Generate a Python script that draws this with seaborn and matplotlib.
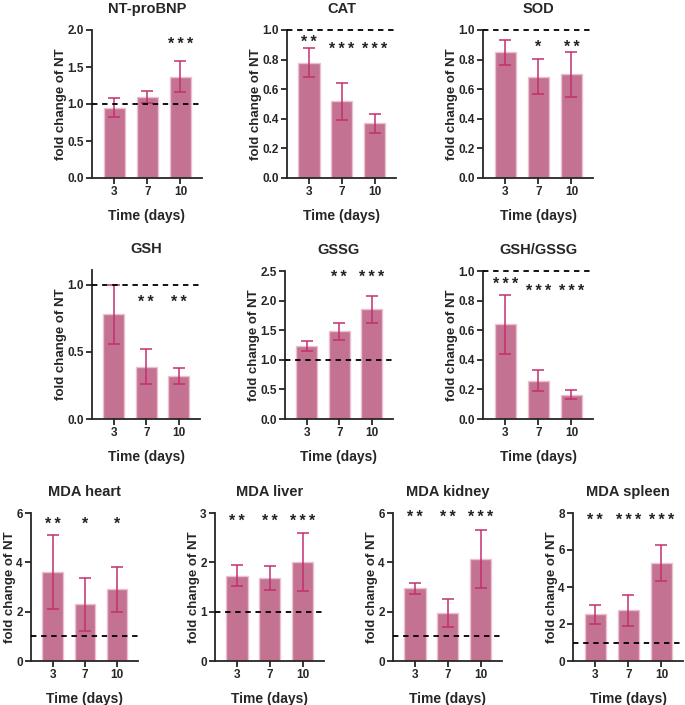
import numpy as np
import pandas as pd
import matplotlib
matplotlib.use("Agg")
import matplotlib.pyplot as plt
import seaborn as sns

# time points (days)
days = ["3", "7", "10"]

# fold change of NT (mean, sd) and significance marks per panel
ntprobnp = [0.95, 1.09, 1.37]
ntprobnp_sd = [0.13, 0.08, 0.21]
ntprobnp_sig = ["", "", "***"]

cat = [0.78, 0.52, 0.37]
cat_sd = [0.10, 0.125, 0.065]
cat_sig = ["**", "***", "***"]

sod = [0.85, 0.685, 0.70]
sod_sd = [0.085, 0.118, 0.15]
sod_sig = ["", "*", "**"]

gsh = [0.78, 0.39, 0.32]
gsh_sd = [0.22, 0.128, 0.06]
gsh_sig = ["", "**", "**"]

gssg = [1.23, 1.48, 1.85]
gssg_sd = [0.085, 0.14, 0.22]
gssg_sig = ["", "**", "***"]

ratio = [0.64, 0.26, 0.165]
ratio_sd = [0.198, 0.073, 0.03]
ratio_sig = ["***", "***", "***"]

mda_heart = [3.6, 2.3, 2.9]
mda_heart_sd = [1.49, 1.08, 0.9]
mda_heart_sig = ["**", "*", "*"]

mda_liver = [1.73, 1.68, 2.0]
mda_liver_sd = [0.215, 0.245, 0.59]
mda_liver_sig = ["**", "**", "***"]

mda_kidney = [2.95, 1.93, 4.13]
mda_kidney_sd = [0.22, 0.57, 1.18]
mda_kidney_sig = ["**", "**", "***"]

mda_spleen = [2.52, 2.73, 5.3]
mda_spleen_sd = [0.5, 0.86, 0.95]
mda_spleen_sig = ["**", "***", "***"]

panels = [
    ("NT-proBNP", ntprobnp, ntprobnp_sd, ntprobnp_sig),
    ("CAT", cat, cat_sd, cat_sig),
    ("SOD", sod, sod_sd, sod_sig),
    ("GSH", gsh, gsh_sd, gsh_sig),
    ("GSSG", gssg, gssg_sd, gssg_sig),
    ("GSH/GSSG", ratio, ratio_sd, ratio_sig),
    ("MDA heart", mda_heart, mda_heart_sd, mda_heart_sig),
    ("MDA liver", mda_liver, mda_liver_sd, mda_liver_sig),
    ("MDA kidney", mda_kidney, mda_kidney_sd, mda_kidney_sig),
    ("MDA spleen", mda_spleen, mda_spleen_sd, mda_spleen_sig),
]

# layout: pixel box (left, top, right, bottom), y max, y tick step, star heights
layout = [
    ((92, 30, 202, 178), 2.0, 0.5, [1.84, 1.84, 1.84]),
    ((287, 30, 396, 178), 1.0, 0.2, [0.94, 0.89, 0.89]),
    ((483, 30, 593, 178), 1.0, 0.2, [0.905, 0.905, 0.905]),
    ((92, 270, 200, 419), 1.11, 0.5, [0.89, 0.89, 0.89]),
    ((285, 271, 393, 419), 2.5, 0.5, [2.44, 2.44, 2.44]),
    ((483, 271, 593, 419), 1.0, 0.2, [0.93, 0.885, 0.885]),
    ((31, 513, 138, 661), 6.0, 2, [5.68, 5.68, 5.68]),
    ((215, 513, 324, 661), 3.0, 1, [2.9, 2.9, 2.9]),
    ((393, 513, 502, 661), 6.0, 2, [5.96, 5.96, 5.96]),
    ((573, 513, 683, 661), 8.0, 2, [7.78, 7.78, 7.78]),
]

sns.set_style("ticks")
plt.rcParams["font.family"] = ["Liberation Sans", "DejaVu Sans"]
plt.rcParams["font.weight"] = "bold"
plt.rcParams["axes.linewidth"] = 1.3

W, H = 685, 705
fig = plt.figure(figsize=(W / 100, H / 100), dpi=100)

bar_color = "#C47292"
edge_color = "#EBC0D0"
err_color = "#C2306E"

for (title, vals, sds, sig), (box, ymax, step, star_y) in zip(panels, layout):
    l, t, r, b = box
    ax = fig.add_axes([l / W, 1 - b / H, (r - l) / W, (b - t) / H])
    df = pd.DataFrame({"day": days, "fold": vals})
    sns.barplot(data=df, x="day", y="fold", color=bar_color, saturation=1,
                width=0.64, edgecolor=edge_color, linewidth=1, errorbar=None, ax=ax)
    ax.errorbar(range(len(days)), vals, yerr=sds, fmt="none", ecolor=err_color,
                elinewidth=1.1, capsize=4.2, capthick=1.1, zorder=3)
    ax.axhline(1.0, color="black", lw=1.3, ls=(0, (3, 2.6)), zorder=4, clip_on=False)
    for i, s in enumerate(sig):
        if s:
            # thin spaces between the asterisks, baseline shifted so the glyphs centre on star_y
            ax.annotate("\u2009".join(s), (i, star_y[i]), xytext=(0, -5.5),
                        textcoords="offset points", ha="center", va="baseline",
                        fontsize=11.5, fontweight="bold", color="#222222")
    ax.set_xlim(-0.67, 2.65)
    ax.set_ylim(0, ymax)
    ax.set_yticks(np.arange(0, ymax + 1e-9, step))
    sns.despine(ax=ax)
    ax.tick_params(axis="both", length=4, width=1.3, labelsize=8.5, pad=2)
    ax.set_title(title, fontsize=10.5, fontweight="bold", pad=12)
    ax.set_xlabel("Time (days)", fontsize=10, fontweight="bold", labelpad=8)
    ax.set_ylabel("fold change of NT", fontsize=9.5, fontweight="bold", labelpad=0)

plt.savefig("out.png", dpi=100)
